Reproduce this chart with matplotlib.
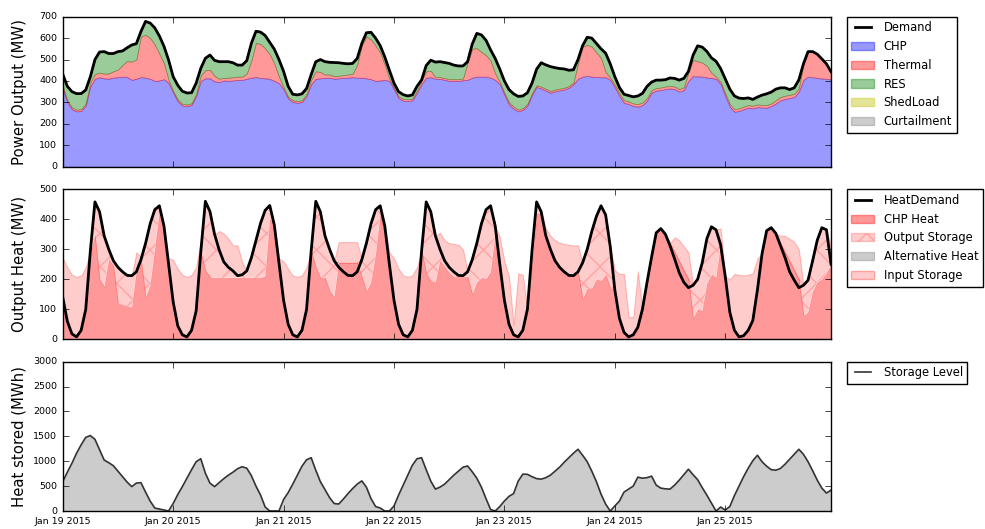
import numpy as np
import pandas as pd
import matplotlib
matplotlib.use("Agg")
import matplotlib.pyplot as plt
import matplotlib.dates as mdates
from matplotlib.lines import Line2D
from matplotlib.patches import Patch

plt.style.use("classic")
plt.rcParams["font.family"] = ["DejaVu Sans"]
plt.rcParams["hatch.linewidth"] = 1.0

hours = pd.date_range("2015-01-19 00:00", periods=168, freq="h")

# ---------------- electricity dispatch (MW), hourly ----------------
demand = [
    432, 375, 350, 341, 341, 358, 420, 500, 535, 537, 528, 528, 537, 540, 555, 568, 574, 631, 678, 670, 648, 610, 562, 498,
    420, 380, 352, 344, 345, 390, 459, 506, 521, 496, 490, 490, 490, 485, 474, 474, 495, 576, 632, 628, 612, 580, 548, 500,
    445, 375, 338, 335, 340, 365, 430, 490, 500, 490, 487, 486, 485, 482, 480, 482, 505, 575, 625, 627, 600, 565, 512, 450,
    390, 350, 336, 330, 335, 375, 405, 472, 497, 488, 490, 486, 482, 474, 470, 470, 490, 572, 622, 615, 590, 545, 505, 455,
    400, 360, 340, 328, 330, 345, 390, 455, 485, 475, 467, 462, 458, 456, 450, 452, 500, 565, 604, 600, 575, 550, 530, 480,
    420, 370, 338, 332, 326, 330, 342, 375, 395, 404, 404, 406, 414, 412, 404, 412, 445, 520, 564, 558, 538, 508, 492, 458,
    410, 362, 330, 320, 318, 321, 314, 325, 334, 340, 348, 362, 368, 368, 360, 368, 405, 480, 537, 537, 525, 503, 480, 443,
]
chp = [
    365, 300, 268, 258, 260, 285, 375, 410, 417, 412, 410, 415, 418, 420, 418, 405, 410, 418, 415, 410, 400, 402, 408, 390,
    345, 305, 285, 282, 288, 330, 400, 412, 412, 398, 395, 402, 400, 402, 405, 405, 410, 415, 418, 414, 412, 410, 400, 390,
    360, 318, 302, 298, 302, 330, 385, 410, 412, 415, 415, 410, 412, 415, 415, 418, 415, 415, 412, 408, 400, 402, 405, 400,
    360, 320, 308, 306, 310, 345, 385, 415, 417, 410, 410, 405, 400, 400, 400, 403, 405, 415, 420, 420, 420, 415, 405, 385,
    335, 290, 270, 258, 265, 285, 335, 372, 365, 355, 345, 352, 356, 360, 368, 385, 410, 420, 423, 420, 418, 417, 417, 405,
    370, 330, 298, 292, 283, 280, 287, 308, 345, 355, 357, 362, 365, 362, 350, 358, 400, 422, 421, 420, 416, 413, 410, 385,
    330, 280, 256, 260, 268, 275, 272, 278, 276, 275, 283, 295, 310, 316, 320, 325, 350, 405, 420, 417, 414, 411, 410, 407,
]
thermal = [
    12, 10, 8, 8, 8, 10, 18, 22, 22, 22, 25, 30, 35, 55, 75, 85, 90, 190, 200, 190, 170, 125, 75, 15,
    8, 8, 8, 8, 8, 10, 25, 38, 40, 25, 15, 12, 15, 15, 15, 15, 25, 80, 160, 158, 140, 115, 80, 30,
    10, 8, 8, 8, 8, 10, 20, 35, 30, 15, 15, 12, 12, 12, 15, 15, 60, 150, 195, 185, 165, 130, 70, 10,
    8, 8, 8, 8, 8, 10, 15, 30, 30, 8, 8, 8, 8, 8, 8, 8, 80, 135, 133, 115, 100, 80, 30, 10,
    10, 10, 10, 8, 8, 8, 8, 8, 8, 8, 8, 8, 8, 8, 8, 8, 70, 140, 145, 140, 115, 90, 25, 10,
    12, 12, 12, 12, 12, 12, 12, 12, 12, 12, 12, 12, 12, 12, 12, 12, 40, 75, 72, 65, 55, 25, 10, 10,
    12, 12, 12, 12, 12, 12, 12, 12, 12, 12, 12, 15, 15, 15, 15, 15, 15, 75, 117, 120, 111, 92, 70, 36,
]
res = [
    55, 65, 74, 75, 73, 63, 27, 68, 96, 103, 93, 83, 84, 65, 62, 78, 74, 23, 63, 70, 78, 83, 79, 93,
    67, 67, 59, 54, 49, 50, 34, 56, 69, 73, 80, 76, 75, 68, 54, 54, 60, 81, 54, 56, 60, 55, 68, 80,
    75, 49, 28, 29, 30, 25, 25, 45, 58, 60, 57, 64, 61, 55, 50, 49, 30, 10, 18, 34, 35, 33, 37, 40,
    22, 22, 20, 16, 17, 20, 5, 27, 50, 70, 72, 73, 74, 66, 62, 59, 5, 22, 69, 80, 70, 50, 70, 60,
    55, 60, 60, 62, 57, 52, 47, 75, 112, 112, 114, 102, 94, 88, 74, 59, 20, 5, 36, 40, 42, 43, 88, 65,
    38, 28, 28, 28, 31, 38, 43, 55, 38, 37, 35, 32, 37, 38, 42, 42, 5, 23, 71, 73, 67, 70, 72, 63,
    68, 70, 62, 48, 38, 34, 30, 35, 46, 53, 53, 52, 43, 37, 25, 28, 40, 0, 0, 0, 0, 0, 0, 0,
]
shed_load = [0] * 168
curtailment = [0] * 168

# ---------------- heat balance (MW), hourly ----------------
heat_demand = [
    140, 60, 18, 8, 30, 100, 295, 458, 425, 345, 300, 262, 240, 225, 213, 212, 225, 265, 320, 385, 432, 445, 378, 250,
    125, 45, 15, 8, 30, 95, 290, 460, 426, 350, 298, 258, 240, 228, 212, 215, 228, 272, 330, 387, 430, 446, 380, 255,
    130, 50, 15, 8, 30, 100, 295, 460, 425, 345, 300, 262, 240, 225, 213, 212, 225, 265, 320, 385, 432, 445, 378, 250,
    130, 50, 15, 8, 30, 100, 295, 458, 425, 345, 300, 262, 240, 225, 213, 212, 225, 265, 320, 385, 432, 445, 378, 250,
    130, 50, 15, 8, 30, 100, 295, 458, 425, 345, 300, 262, 240, 225, 213, 212, 225, 255, 300, 360, 410, 445, 415, 310,
    165, 70, 23, 8, 15, 40, 100, 190, 275, 355, 369, 350, 312, 268, 222, 190, 172, 180, 200, 255, 335, 375, 365, 315,
    210, 90, 30, 8, 12, 30, 63, 165, 285, 362, 372, 353, 312, 272, 225, 197, 172, 180, 197, 262, 330, 372, 365, 250,
]
chp_heat = [
    140, 60, 18, 8, 30, 100, 290, 345, 200, 175, 265, 245, 120, 115, 110, 105, 225, 265, 140, 180, 300, 425, 378, 250,
    125, 45, 15, 8, 30, 95, 290, 230, 205, 205, 205, 205, 205, 205, 205, 205, 205, 205, 205, 205, 210, 400, 380, 255,
    130, 50, 15, 8, 30, 100, 295, 240, 205, 205, 160, 140, 255, 255, 255, 255, 255, 208, 160, 190, 280, 415, 350, 250,
    130, 50, 15, 8, 30, 100, 295, 220, 195, 190, 260, 240, 220, 208, 208, 208, 208, 150, 190, 205, 202, 225, 348, 250,
    130, 50, 15, 8, 30, 100, 250, 418, 425, 345, 300, 262, 240, 225, 213, 212, 225, 135, 170, 170, 200, 195, 215, 170,
    165, 70, 23, 8, 15, 40, 100, 190, 275, 355, 369, 350, 320, 290, 260, 230, 200, 70, 100, 95, 185, 215, 205, 315,
    210, 90, 30, 8, 12, 30, 63, 165, 285, 362, 372, 353, 320, 290, 260, 230, 200, 80, 90, 160, 190, 200, 220, 250,
]
storage_out = [
    0, 0, 0, 0, 0, 0, 5, 113, 225, 170, 35, 17, 120, 110, 103, 107, 0, 0, 180, 205, 132, 20, 0, 0,
    0, 0, 0, 0, 0, 0, 0, 230, 221, 145, 93, 53, 35, 23, 7, 10, 23, 67, 125, 182, 220, 46, 0, 0,
    0, 0, 0, 0, 0, 0, 0, 220, 220, 140, 140, 122, 0, 0, 0, 0, 0, 57, 160, 195, 152, 30, 28, 0,
    0, 0, 0, 0, 0, 0, 0, 238, 230, 155, 40, 22, 20, 17, 5, 4, 17, 115, 130, 180, 230, 220, 30, 0,
    0, 0, 0, 0, 0, 0, 45, 40, 0, 0, 0, 0, 0, 0, 0, 0, 0, 120, 130, 190, 210, 250, 200, 140,
    0, 0, 0, 0, 0, 0, 0, 0, 0, 0, 0, 0, 0, 0, 0, 0, 0, 110, 100, 160, 150, 160, 160, 0,
    0, 0, 0, 0, 0, 0, 0, 0, 0, 0, 0, 0, 0, 0, 0, 0, 0, 100, 107, 102, 140, 172, 145, 0,
]
storage_in = [
    130, 180, 197, 200, 183, 140, 0, 0, 0, 0, 0, 0, 0, 0, 0, 0, 65, 10, 0, 0, 0, 0, 0, 20,
    140, 190, 200, 200, 185, 145, 40, 0, 0, 0, 63, 94, 96, 85, 101, 42, 0, 0, 0, 0, 0, 0, 0, 15,
    130, 185, 198, 200, 183, 140, 0, 0, 0, 0, 0, 0, 69, 69, 69, 69, 69, 0, 0, 0, 0, 0, 0, 40,
    140, 185, 198, 200, 183, 140, 0, 0, 0, 0, 55, 68, 80, 93, 102, 88, 0, 0, 0, 0, 0, 0, 0, 90,
    130, 160, 32, 212, 185, 0, 0, 0, 0, 25, 45, 68, 82, 93, 102, 101, 88, 0, 0, 0, 0, 0, 0, 0,
    65, 148, 195, 66, 59, 187, 0, 0, 0, 0, 0, 0, 0, 50, 70, 80, 90, 0, 0, 0, 0, 0, 0, 55,
    0, 110, 188, 207, 201, 185, 157, 105, 0, 0, 0, 0, 25, 55, 75, 95, 100, 0, 0, 0, 0, 0, 0, 60,
]
alternative_heat = [0] * 168

# ---------------- thermal storage (MWh), hourly ----------------
storage_level = [
    590, 780, 960, 1160, 1330, 1480, 1515, 1440, 1230, 1025, 970, 910, 800, 690, 580, 490, 560, 570, 380, 200, 60, 40, 20, 0,
    150, 330, 490, 660, 830, 990, 1050, 760, 560, 490, 570, 650, 720, 780, 850, 890, 860, 710, 500, 320, 80, 0, 0, 0,
    230, 370, 540, 720, 900, 1030, 1070, 820, 590, 430, 270, 150, 140, 240, 350, 450, 540, 605, 480, 250, 90, 60, 0, 0,
    100, 320, 520, 720, 920, 1050, 1070, 830, 600, 440, 480, 540, 630, 720, 800, 880, 905, 790, 660, 480, 250, 30, 0, 90,
    200, 295, 350, 600, 740, 737, 690, 650, 640, 670, 720, 800, 880, 980, 1070, 1160, 1240, 1120, 990, 800, 590, 340, 140, 0,
    100, 200, 380, 440, 500, 680, 660, 670, 700, 520, 460, 445, 440, 520, 620, 730, 840, 730, 630, 470, 320, 160, 0, 80,
    20, 90, 310, 500, 690, 860, 1010, 1120, 990, 900, 830, 820, 855, 940, 1040, 1140, 1240, 1140, 990, 810, 620, 460, 360, 420,
]

TICK_FS = 6.8
LABEL_FS = 10.7
LEGEND_FS = 8.3

fig = plt.figure(figsize=(9.85, 5.29), dpi=100, facecolor="white")
left, width = 0.0637, 0.780
ax1 = fig.add_axes([left, 0.6849, width, 0.2836])
ax2 = fig.add_axes([left, 0.3586, width, 0.2836], sharex=ax1)
ax3 = fig.add_axes([left, 0.0340, width, 0.2823], sharex=ax1)

# ---- power output ----
layers = [
    ("CHP", chp, "b"),
    ("Thermal", thermal, "r"),
    ("RES", res, "g"),
    ("ShedLoad", shed_load, "y"),
    ("Curtailment", curtailment, "grey"),
]
base = np.zeros(len(hours))
handles1 = []
for name, vals, col in layers:
    top = base + np.asarray(vals, dtype=float)
    ax1.fill_between(hours, base, top, facecolor=col, edgecolor=col, alpha=0.4, linewidth=0.5)
    handles1.append(Patch(facecolor=col, edgecolor=col, alpha=0.4, label=name))
    base = top
ax1.plot(hours, demand, color="k", lw=2)
h_dem = Line2D([], [], color="k", lw=2, label="Demand")
ax1.legend(handles=[h_dem] + handles1, loc="upper left", bbox_to_anchor=(1.0204, 1.0),
           borderaxespad=0, fontsize=LEGEND_FS, fancybox=False, frameon=True)
ax1.set_ylim(0, 700)
ax1.set_yticks(range(0, 701, 100))
ax1.set_ylabel("Power Output (MW)", fontsize=LABEL_FS)

# ---- heat output: CHP heat, then storage discharge and charge stacked on it ----
ch = np.asarray(chp_heat, dtype=float)
so = np.asarray(storage_out, dtype=float)
si = np.asarray(storage_in, dtype=float)
ah = np.asarray(alternative_heat, dtype=float)
ax2.fill_between(hours, 0, ch, facecolor="r", edgecolor="r", alpha=0.4, linewidth=0.3)
ax2.fill_between(hours, ch, ch + so, facecolor=(1, 0, 0, 0.2), edgecolor=(1, 0, 0, 0.2),
                 hatch="x", linewidth=0)
ax2.fill_between(hours, ch + so, ch + so + ah, facecolor="grey", alpha=0.4, linewidth=0)
top_out = ch + so + ah
ax2.fill_between(hours, top_out, top_out + si, facecolor=(1, 0, 0, 0.2),
                 edgecolor=(1, 0, 0, 0.22), linewidth=0.8)
ax2.plot(hours, heat_demand, color="k", lw=2)
handles2 = [
    Line2D([], [], color="k", lw=2, label="HeatDemand"),
    Patch(facecolor="r", edgecolor="r", alpha=0.4, label="CHP Heat"),
    Patch(facecolor=(1, 0, 0, 0.2), edgecolor=(1, 0, 0, 0.2), hatch="x", label="Output Storage"),
    Patch(facecolor="grey", edgecolor="grey", alpha=0.4, label="Alternative Heat"),
    Patch(facecolor=(1, 0, 0, 0.2), edgecolor=(1, 0, 0, 0.3), label="Input Storage"),
]
ax2.legend(handles=handles2, loc="upper left", bbox_to_anchor=(1.0204, 1.0),
           borderaxespad=0, fontsize=LEGEND_FS, fancybox=False, frameon=True)
ax2.set_ylim(0, 500)
ax2.set_yticks(range(0, 501, 100))
ax2.set_ylabel("Output Heat (MW)", fontsize=LABEL_FS)

# ---- storage level ----
ax3.fill_between(hours, 0, storage_level, facecolor="grey", alpha=0.4, linewidth=0)
ax3.plot(hours, storage_level, color="#333333", lw=1.2)
ax3.legend(handles=[Line2D([], [], color="#333333", lw=1.2, label="Storage Level")],
           loc="upper left", bbox_to_anchor=(1.0204, 1.0), borderaxespad=0,
           fontsize=LEGEND_FS, fancybox=False, frameon=True)
ax3.set_ylim(0, 3000)
ax3.set_yticks(range(0, 3001, 500))
ax3.set_ylabel("Heat stored (MWh)", fontsize=LABEL_FS)

ax3.set_xlim(hours[0], hours[-1])
ax3.xaxis.set_major_locator(mdates.DayLocator())
ax3.xaxis.set_major_formatter(mdates.DateFormatter("%b %d %Y"))

for ax in (ax1, ax2, ax3):
    ax.tick_params(axis="both", which="both", direction="in", labelsize=TICK_FS,
                   top=True, right=True, length=4)
    ax.yaxis.set_label_coords(-0.047, 0.5)
ax1.tick_params(labelbottom=False)
ax2.tick_params(labelbottom=False)

fig.savefig("out.png", dpi=100, facecolor="white")
